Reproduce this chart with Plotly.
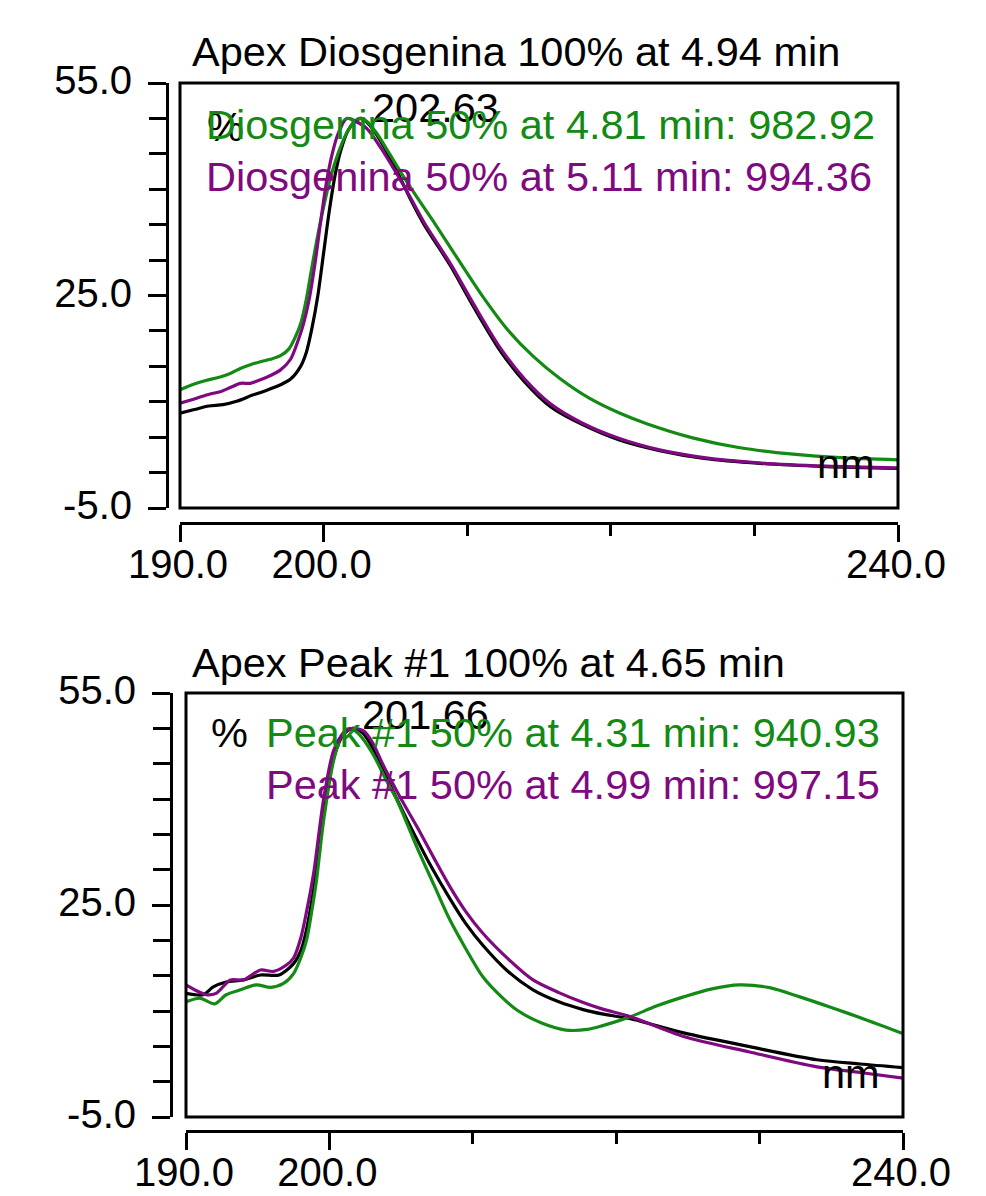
import plotly.graph_objects as go

# ---------------- data ----------------
x_ticks = [190, 200, 240]
x_tick_text = ["190.0", "200.0", "240.0"]
x_minor = [210, 220, 230]
y_ticks = [-5, 25, 55]
y_tick_text = ["-5.0", "25.0", "55.0"]
y_minor = [0, 5, 10, 15, 20, 30, 35, 40, 45, 50]

# Top panel: Apex Diosgenina 100% at 4.94 min
top_black_nm = [190, 191, 192, 193, 194, 195, 196, 197, 197.7, 198.4, 198.8, 199.2, 199.6, 200.0, 200.4,
                200.8, 201.2, 201.7, 202.2, 202.63, 203.0, 203.5, 204.2, 205.0, 206.0, 207.0, 208.8, 210.5,
                212.3, 214.0, 215.8, 218.0, 220.6, 223.4, 226.5, 230.4, 235.0, 240.0]
top_black_v = [8.4, 8.9, 9.4, 9.6, 10.1, 10.9, 11.6, 12.4, 13.2, 15.0, 17.0, 20.5, 25.0, 31.0, 37.0,
               42.0, 45.5, 48.3, 49.6, 50.0, 49.5, 48.3, 46.0, 43.0, 38.8, 35.0, 29.3, 23.2,
               17.2, 12.8, 9.3, 6.8, 4.6, 3.1, 2.0, 1.3, 0.85, 0.6]

top_purple_nm = [190, 191, 192.1, 192.8, 193.5, 194.2, 194.9, 195.6, 196.3, 197.0, 197.7, 198.2, 198.6, 199.0,
                 199.4, 199.8, 200.2, 200.6, 201.0, 201.6, 202.2, 203.0, 204.0, 205.0, 206.0, 207.0, 208.8,
                 210.5, 212.3, 214.0, 215.8, 218.0, 220.6, 223.4, 226.5, 230.4, 235.0, 240.0]
top_purple_v = [9.8, 10.4, 11.1, 11.4, 12.0, 12.6, 12.6, 13.1, 13.7, 14.5, 16.0, 18.5, 21.0, 24.5,
                29.5, 35.5, 41.0, 45.0, 47.8, 50.0, 49.6, 48.6, 45.8, 42.5, 39.0, 35.3, 29.6,
                23.6, 17.6, 13.2, 9.7, 7.0, 4.8, 3.2, 2.1, 1.35, 0.9, 0.65]

top_green_nm = [190, 191, 191.8, 192.8, 193.5, 194.2, 195.0, 195.6, 196.3, 197.0, 197.6, 198.0, 198.4, 198.8,
                199.1, 199.5, 200.0, 200.5, 201.0, 201.5, 202.0, 202.5, 203.0, 203.7, 204.5, 205.5, 206.5,
                207.6, 209.3, 211.1, 212.8, 214.6, 216.5, 218.5, 220.6, 222.5, 225.7, 229.0, 232.7, 236.0, 240.0]
top_green_v = [11.7, 12.5, 13.0, 13.5, 14.0, 14.7, 15.3, 15.65, 16.0, 16.5, 17.5, 19.0, 21.0, 24.5,
               28.0, 32.5, 37.5, 41.8, 45.0, 47.5, 49.2, 50.0, 49.6, 47.9, 45.3, 42.0, 38.9,
               35.6, 30.3, 24.8, 20.2, 16.4, 13.2, 10.5, 8.4, 6.9, 4.9, 3.5, 2.6, 2.1, 1.8]

# Bottom panel: Apex Peak #1 100% at 4.65 min
bot_black_nm = [190, 191.2, 191.9, 192.8, 194.0, 195.2, 196.5, 197.5, 198.0, 198.4, 199.0, 199.6, 200.3, 201.0,
                201.66, 202.3, 203.0, 203.8, 204.7, 205.6, 207.0, 208.4, 209.5, 210.7, 212.4, 214.2, 216.0,
                217.7, 219.0, 221.0, 224.7, 229.3, 234.0, 237.0, 240.0]
bot_black_v = [12.5, 12.3, 13.4, 14.1, 14.4, 15.1, 15.1, 16.7, 18.5, 21.5, 28.5, 38.0, 45.8, 49.2,
               50.0, 49.4, 47.3, 43.8, 40.0, 36.3, 30.8, 25.9, 22.4, 19.3, 15.7, 13.0, 11.3,
               10.2, 9.6, 8.9, 6.9, 4.95, 3.1, 2.5, 2.0]

bot_purple_nm = [190, 190.7, 191.4, 192.1, 193.1, 194.0, 195.2, 196.1, 197.0, 197.5, 198.0, 198.4, 198.9, 199.6,
                 200.3, 201.0, 201.66, 202.4, 203.0, 203.8, 205.0, 206.1, 207.3, 208.4, 209.5, 210.7, 212.5,
                 214.2, 216.0, 217.7, 219.0, 221.0, 224.7, 229.3, 234.0, 237.0, 240.0]
bot_purple_v = [13.7, 12.9, 12.3, 12.5, 14.4, 14.4, 15.8, 15.6, 16.5, 17.5, 20.3, 24.0, 29.5, 40.0,
                46.9, 49.3, 50.0, 49.6, 48.0, 44.6, 40.0, 36.1, 31.6, 27.6, 24.1, 21.0, 17.3,
                14.4, 12.6, 11.2, 10.3, 9.2, 6.4, 4.2, 2.1, 1.3, 0.5]

bot_green_nm = [190, 191.0, 192.0, 192.8, 193.8, 194.9, 195.9, 196.8, 197.5, 198.0, 198.4, 198.8, 199.1, 199.6,
                200.3, 200.9, 201.4, 202.0, 203.0, 204.0, 204.7, 206.1, 207.3, 208.4, 209.6, 210.7, 212.0,
                213.1, 214.8, 216.5, 218.0, 219.0, 221.0, 222.8, 224.7, 226.6, 228.6, 230.7, 232.8, 235.0,
                237.5, 240.0]
bot_green_v = [11.3, 11.8, 11.0, 12.3, 13.0, 13.7, 13.35, 13.9, 15.3, 17.5, 20.0, 24.5, 28.5, 37.0,
               45.5, 49.2, 50.0, 49.3, 46.5, 42.5, 39.9, 33.2, 27.8, 22.9, 18.5, 14.85, 12.0,
               10.1, 8.3, 7.3, 7.4, 7.9, 9.2, 10.7, 12.0, 13.1, 13.7, 13.3, 12.0, 10.5,
               8.7, 6.8]

top_title = "Apex Diosgenina 100% at 4.94 min"
top_green_label = "Diosgenina 50% at 4.81 min: 982.92"
top_purple_label = "Diosgenina 50% at 5.11 min: 994.36"
top_apex_label = "202.63"
bot_title = "Apex Peak #1 100% at 4.65 min"
bot_green_label = "Peak #1 50% at 4.31 min: 940.93"
bot_purple_label = "Peak #1 50% at 4.99 min: 997.15"
bot_apex_label = "201.66"

# ---------------- layout helpers ----------------
W, H = 986, 1196
OFF = 8  # page body margin of the html page
FONT = "Arial, Liberation Sans, sans-serif"
FS_TICK = 40
FS_TEXT = 41.5
BLACK = "#000000"
GREEN = "#138a13"
PURPLE = "#7f0a7f"


def px(x):
    return (x - OFF) / W


def py(y):
    return 1 - (y - OFF) / H


fig = go.Figure()

panels = [
    dict(xa="x", ya="y", black=(top_black_nm, top_black_v), green=(top_green_nm, top_green_v),
         purple=(top_purple_nm, top_purple_v)),
    dict(xa="x2", ya="y2", black=(bot_black_nm, bot_black_v), green=(bot_green_nm, bot_green_v),
         purple=(bot_purple_nm, bot_purple_v)),
]
for p in panels:
    for key, col in (("black", BLACK), ("green", GREEN), ("purple", PURPLE)):
        xs, ys = p[key]
        fig.add_trace(go.Scatter(x=xs, y=ys, mode="lines", xaxis=p["xa"], yaxis=p["ya"],
                                 line=dict(color=col, width=3.2, shape="spline", smoothing=0.8),
                                 showlegend=False, hoverinfo="skip"))


def xaxis_def(domain, pos):
    return dict(domain=domain, anchor="free", position=pos, range=[190, 240], automargin=False,
                tickmode="array", tickvals=x_ticks, ticktext=x_tick_text,
                ticks="outside", ticklen=17, tickwidth=3, tickcolor=BLACK, ticklabelstandoff=-12,
                ticklabelshift=-2,
                showline=True, linewidth=3, linecolor=BLACK, showgrid=False, zeroline=False,
                tickfont=dict(family=FONT, size=FS_TICK, color=BLACK),
                minor=dict(tickmode="array", tickvals=x_minor, ticks="outside", ticklen=11,
                           tickwidth=3, tickcolor=BLACK, showgrid=False))


def yaxis_def(domain, pos):
    return dict(domain=domain, anchor="free", position=pos, range=[-5, 55], automargin=False,
                tickmode="array", tickvals=y_ticks, ticktext=y_tick_text,
                ticks="outside", ticklen=18, tickwidth=3, tickcolor=BLACK, ticklabelstandoff=8,
                ticklabelshift=-3,
                showline=True, linewidth=3, linecolor=BLACK, showgrid=False, zeroline=False,
                tickfont=dict(family=FONT, size=FS_TICK, color=BLACK),
                minor=dict(tickmode="array", tickvals=y_minor, ticks="outside", ticklen=17,
                           tickwidth=3, tickcolor=BLACK, showgrid=False))


fig.update_layout(
    template="none",
    width=W, height=H, margin=dict(l=0, r=0, t=0, b=0, pad=0, autoexpand=False),
    paper_bgcolor="white", plot_bgcolor="white",
    xaxis=xaxis_def([px(180), px(898)], py(523)),
    yaxis=yaxis_def([py(508), py(83)], px(167)),
    xaxis2=xaxis_def([px(186), px(903)], py(1131)),
    yaxis2=yaxis_def([py(1117), py(693)], px(171)),
    font=dict(family=FONT, size=FS_TEXT, color=BLACK),
)

# plot frames
for xr, yr in (("x domain", "y domain"), ("x2 domain", "y2 domain")):
    fig.add_shape(type="rect", xref=xr, yref=yr, x0=0, x1=1, y0=0, y1=1,
                  line=dict(color=BLACK, width=3), fillcolor="rgba(0,0,0,0)", layer="above")


def label(text, x, y, color, xanchor="left"):
    fig.add_annotation(text=text, x=px(x), y=py(y), xref="paper", yref="paper",
                       xanchor=xanchor, yanchor="middle", showarrow=False,
                       font=dict(family=FONT, size=FS_TEXT, color=color))


# top panel texts
label(top_title, 190, 52, BLACK)
label("%", 205, 126, BLACK)
label(top_apex_label, 370, 107, BLACK)
label(top_green_label, 204, 124, GREEN)
label(top_purple_label, 204, 176, PURPLE)
label("nm", 877, 463, BLACK, xanchor="right")

# bottom panel texts
label(bot_title, 190, 662, BLACK)
label("%", 209, 732, BLACK)
label(bot_apex_label, 360, 714, BLACK)
label(bot_green_label, 264, 732, GREEN)
label(bot_purple_label, 264, 784, PURPLE)
label("nm", 882, 1073, BLACK, xanchor="right")

fig.write_html("out.html")
